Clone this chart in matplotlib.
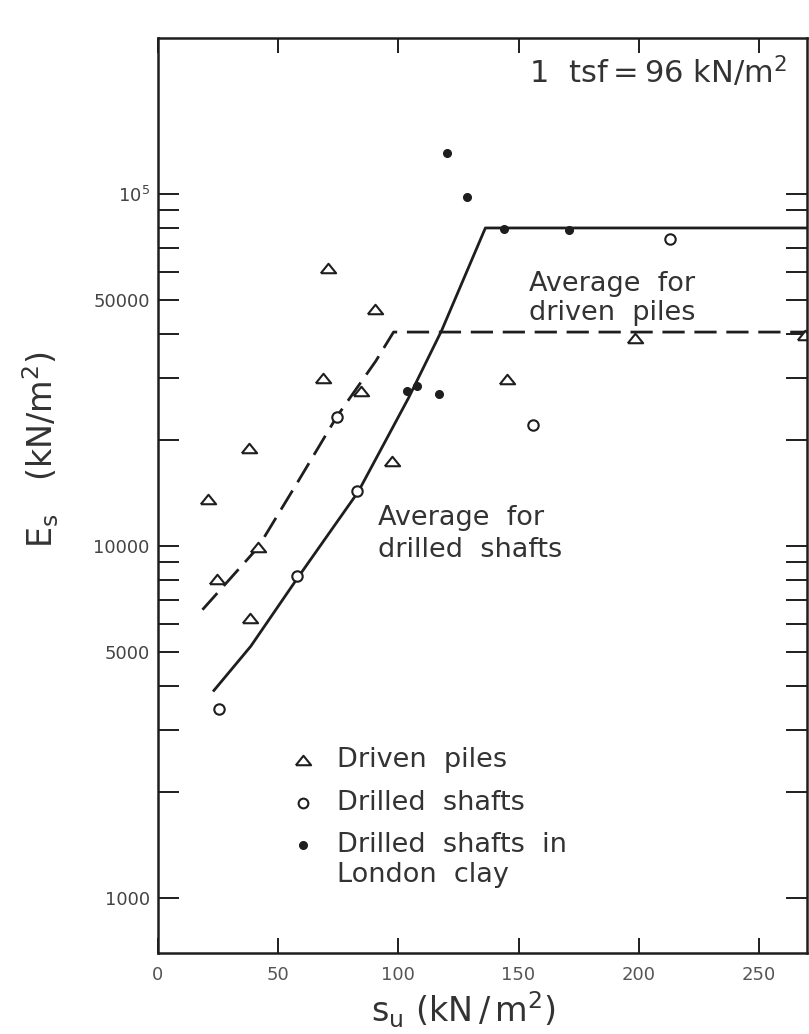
import numpy as np
import matplotlib.pyplot as plt
from matplotlib.ticker import FixedLocator, FixedFormatter, NullFormatter

# s_u (kN/m2) and E_s (kN/m2) for each data group
driven_su = [21.0, 37.9, 41.6, 24.6, 38.4, 70.6, 90.3, 68.8, 84.3, 97.4, 145.4, 198.5, 269.3]
driven_es = [13600, 19000, 9900, 8080, 6230, 61700, 47000, 29900, 27500, 17400, 29800, 38900, 39800]

drilled_su = [25.4, 57.9, 82.9, 74.4, 156.0, 213.2]
drilled_es = [3450, 8220, 14300, 23300, 22100, 74500]

london_su = [120.1, 128.6, 103.4, 107.6, 116.8, 144.1, 171.1]
london_es = [131000, 97700, 27500, 28500, 27100, 79400, 79100]

# average curves
shaft_avg_su = [22.9, 38.6, 57.8, 83.3, 104.2, 118.0, 136.2, 270]
shaft_avg_es = [3860, 5190, 8060, 14250, 26300, 40900, 80000, 80000]

pile_avg_su = [18.5, 41.6, 58.9, 74.4, 90.6, 98.0, 270]
pile_avg_es = [6590, 9900, 15500, 23300, 33500, 40500, 40500]

x_ticks = [0, 50, 100, 150, 200, 250]
y_major = [1000, 5000, 10000, 50000, 100000]
y_major_labels = ['1000', '5000', '10000', '50000', r'$\mathregular{10^5}$']
y_minor = [2000, 3000, 4000, 6000, 7000, 8000, 9000,
           20000, 30000, 40000, 60000, 70000, 80000, 90000]

ink = '#1e1e1e'
txt = '#333333'

# flat open triangle
tri = [(-1, -0.62), (1, -0.62), (0, 0.62), (-1, -0.62)]

fig = plt.figure(figsize=(8.09, 10.34), dpi=100)
ax = fig.add_axes([0.1953, 0.0783, 0.8022, 0.8849])
ax.set_yscale('log')
ax.set_xlim(0, 270)
ax.set_ylim(698, 277000)

# averages
ax.plot(shaft_avg_su, shaft_avg_es, color=ink, lw=2.0, solid_capstyle='butt')
l, = ax.plot(pile_avg_su, pile_avg_es, color=ink, lw=2.0)
l.set_dashes([8, 3.5])

# measured points
ax.plot(driven_su, driven_es, ls='none', marker=tri, ms=11, mfc='white',
        mec=ink, mew=1.5)
ax.plot(drilled_su, drilled_es, ls='none', marker='o', ms=7.5, mfc='white',
        mec=ink, mew=1.5)
ax.plot(london_su, london_es, ls='none', marker='o', ms=5.5, mfc=ink, mec=ink)

# axes styling
for sp in ax.spines.values():
    sp.set_linewidth(1.8)
    sp.set_color(ink)

ax.xaxis.set_major_locator(FixedLocator(x_ticks))
ax.xaxis.set_major_formatter(FixedFormatter([str(v) for v in x_ticks]))
ax.yaxis.set_major_locator(FixedLocator(y_major))
ax.yaxis.set_major_formatter(FixedFormatter(y_major_labels))
ax.yaxis.set_minor_locator(FixedLocator(y_minor))
ax.yaxis.set_minor_formatter(NullFormatter())

ax.tick_params(axis='x', which='both', direction='in', top=True, length=11,
               width=1.4, color=ink, labelsize=13, labelcolor='#555555', pad=9)
ax.tick_params(axis='y', which='both', direction='in', right=True, length=15,
               width=1.4, color=ink, labelsize=13, labelcolor='#444444', pad=6)

ax.set_xlabel(r'$\mathregular{s_u\ (kN\,/\,m^2)}$', fontsize=24, color=txt)
ax.set_ylabel(r'$\mathregular{E_s\ \ \ (kN/m^2)}$', fontsize=24, color=txt)
ax.xaxis.set_label_coords(0.47, -0.062)
ax.xaxis.label.set_va('center')
ax.yaxis.set_label_coords(-0.18, 0.55)
ax.yaxis.label.set_va('center')

# annotations
ax.text(0.571, 0.963, r'$\mathregular{1\ \ tsf=96\ kN/m^2}$', transform=ax.transAxes,
        fontsize=22, color=txt, va='center', ha='left')
ax.text(0.571, 0.745, 'Average  for\ndriven  piles', transform=ax.transAxes,
        fontsize=19.5, color=txt, va='top', ha='left', linespacing=1.15)
ax.text(0.339, 0.490, 'Average  for\ndrilled  shafts', transform=ax.transAxes,
        fontsize=19.5, color=txt, va='top', ha='left', linespacing=1.3)

# key
mx = 0.224
tx = 0.276
ax.plot([mx], [0.211], transform=ax.transAxes, marker=tri, ms=11, mfc='white',
        mec=ink, mew=1.5, ls='none')
ax.plot([mx], [0.164], transform=ax.transAxes, marker='o', ms=7, mfc='white',
        mec=ink, mew=1.5, ls='none')
ax.plot([mx], [0.118], transform=ax.transAxes, marker='o', ms=5.5, mfc=ink,
        mec=ink, ls='none')
ax.text(tx, 0.211, 'Driven  piles', transform=ax.transAxes, fontsize=19.5,
        color=txt, va='center')
ax.text(tx, 0.164, 'Drilled  shafts', transform=ax.transAxes, fontsize=19.5,
        color=txt, va='center')
ax.text(tx, 0.118, 'Drilled  shafts  in', transform=ax.transAxes, fontsize=19.5,
        color=txt, va='center')
ax.text(tx, 0.085, 'London  clay', transform=ax.transAxes, fontsize=19.5,
        color=txt, va='center')

fig.savefig('out.png', dpi=100)
